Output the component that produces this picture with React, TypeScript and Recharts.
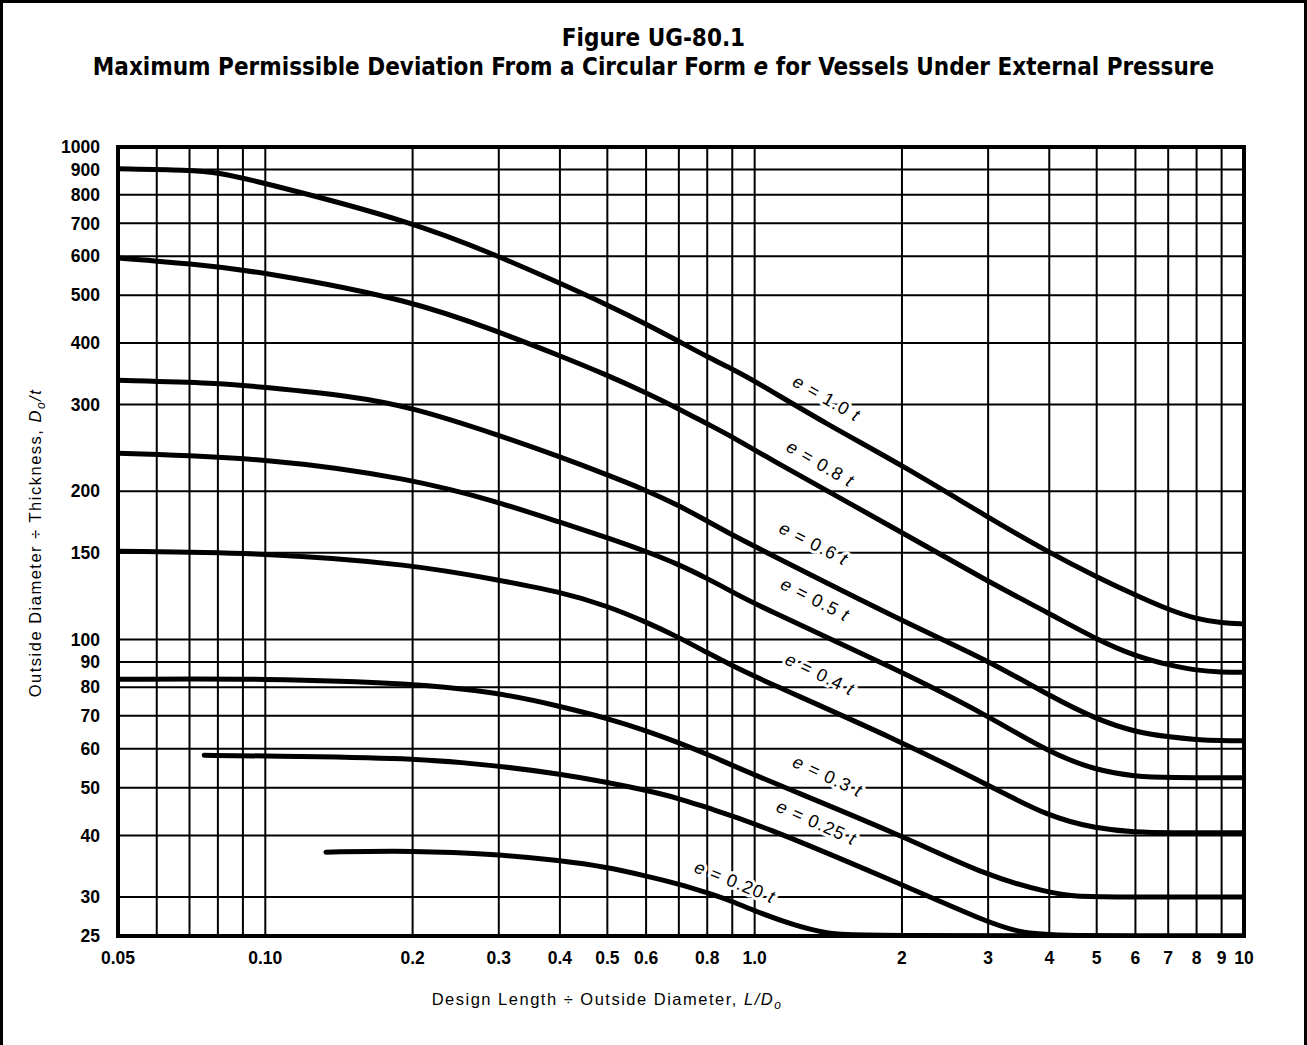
import React from 'react';
import { LineChart, Line, XAxis, YAxis, CartesianGrid, ReferenceArea } from 'recharts';

// ---- axes ----
const xGridValues = [0.05, 0.06, 0.07, 0.08, 0.09, 0.1, 0.2, 0.3, 0.4, 0.5, 0.6, 0.7, 0.8, 0.9, 1, 2, 3, 4, 5, 6, 7, 8, 9, 10];
const xLabelValues = [0.05, 0.1, 0.2, 0.3, 0.4, 0.5, 0.6, 0.8, 1, 2, 3, 4, 5, 6, 7, 8, 9, 10];
const xLabelTexts = ['0.05', '0.10', '0.2', '0.3', '0.4', '0.5', '0.6', '0.8', '1.0', '2', '3', '4', '5', '6', '7', '8', '9', '10'];
const yGridValues = [25, 30, 40, 50, 60, 70, 80, 90, 100, 150, 200, 300, 400, 500, 600, 700, 800, 900, 1000];

// ---- curves: L/Do (x) and Do/t (y) ----
const e10X = [0.05, 0.07, 0.08, 0.1, 0.2, 0.3, 0.4, 0.5, 0.6, 0.7, 0.8, 0.9, 1, 1.4, 2, 3, 4, 5, 6, 7, 8, 9, 10];
const e10Y = [903, 898, 888, 845, 705, 600, 529, 478, 437, 403, 375, 354, 335, 274, 226, 177, 150, 134, 123, 115, 110, 108, 107.5];

const e08X = [0.05, 0.07, 0.1, 0.2, 0.3, 0.4, 0.5, 0.6, 0.7, 0.8, 0.9, 1, 2, 3, 4, 5, 6, 7, 8, 9, 10];
const e08Y = [595, 580, 557, 488, 421, 377, 344, 317, 294, 274, 258, 242, 165, 131, 113, 100, 92.5, 88.8, 86.5, 85.8, 85.8];

const e06X = [0.05, 0.08, 0.1, 0.15, 0.2, 0.3, 0.4, 0.5, 0.6, 0.7, 0.8, 0.9, 1, 2, 3, 4, 5, 6, 7, 8, 9, 10];
const e06Y = [336, 332, 325, 312, 296, 260, 235, 216, 201, 187, 174, 163, 154.5, 109, 90.7, 76.9, 68.8, 64.9, 63.4, 62.6, 62.3, 62.3];

const e05X = [0.05, 0.1, 0.2, 0.3, 0.4, 0.5, 0.6, 0.7, 0.8, 0.9, 1, 2, 3, 4, 5, 6, 7, 10];
const e05Y = [239, 234, 212, 190, 173, 161, 151, 142, 133, 125, 118, 86, 70, 58.9, 54.2, 52.7, 52.4, 52.4];

const e04X = [0.05, 0.1, 0.2, 0.3, 0.4, 0.5, 0.6, 0.7, 0.8, 0.9, 1, 2, 3, 4, 5, 6, 7, 10];
const e04Y = [151, 150, 142, 132, 125, 117, 108.5, 101, 94, 88.5, 84, 62, 50.6, 43.6, 41.3, 40.6, 40.5, 40.5];

const e03X = [0.05, 0.1, 0.2, 0.3, 0.4, 0.5, 0.6, 0.7, 0.8, 1, 2, 3, 4, 4.5, 5, 10];
const e03Y = [83, 83.3, 81.5, 78, 73.2, 69.2, 65.3, 61.7, 58.5, 53, 40, 33, 30.6, 30.1, 30, 30];

const e025X = [0.075, 0.1, 0.2, 0.3, 0.4, 0.5, 0.6, 0.7, 0.8, 1, 2, 3, 3.5, 4, 10];
const e025Y = [58.2, 58, 57.5, 55.4, 53.3, 51.3, 49.4, 47.6, 45.5, 42.5, 31.8, 26.6, 25.4, 25, 25];

const e020X = [0.133, 0.2, 0.3, 0.4, 0.5, 0.6, 0.7, 0.8, 0.9, 1, 1.2, 1.4, 1.6, 10];
const e020Y = [37, 37.3, 36.6, 35.6, 34.5, 33.1, 31.9, 30.6, 29.4, 28.1, 26.3, 25.3, 25, 25];

// ---- curve labels (anchor in data units) ----
const labelTexts = ['1.0', '0.8', '0.6', '0.5', '0.4', '0.3', '0.25', '0.20'];
const labelX = [1.38, 1.34, 1.3, 1.31, 1.34, 1.39, 1.32, 0.9];
const labelY = [300, 221, 152, 117, 82.5, 51.2, 41.2, 31.2];

// styles (not data)
const labelAngles = [30, 30, 27, 27, 26, 25, 24, 22];
const labelLift = 7;
const FONT = "'Liberation Sans', Arial, Helvetica, sans-serif";

const zip = (xs: number[], ys: number[]) => xs.map((x, i) => ({ x, y: ys[i] }));

const curves = [
  zip(e10X, e10Y),
  zip(e08X, e08Y),
  zip(e06X, e06Y),
  zip(e05X, e05Y),
  zip(e04X, e04Y),
  zip(e03X, e03Y),
  zip(e025X, e025Y),
  zip(e020X, e020Y),
];

const labelData = labelTexts.map((t, i) => ({ x: labelX[i], y: labelY[i], text: t, idx: i }));

const xFmt = (v: number) => {
  const i = xLabelValues.findIndex((u) => Math.abs(u - v) < 1e-9);
  return i >= 0 ? xLabelTexts[i] : '';
};

const CurveLabel = (props: any) => {
  const { cx, cy, payload, index } = props;
  if (cx == null || cy == null || !payload) return <g key={`lbl-${index}`} />;
  const ang = labelAngles[payload.idx];
  return (
    <g key={`lbl-${index}`} transform={`rotate(${ang} ${cx} ${cy})`}>
      <text
        x={cx}
        y={cy - labelLift}
        textAnchor="middle"
        dominantBaseline="central"
        fontFamily={FONT}
        fontSize={18}
        letterSpacing={1}
        fill="#000"
        stroke="#fff"
        strokeWidth={6}
        paintOrder="stroke"
        strokeLinejoin="round"
      >
        <tspan fontStyle="italic">e</tspan>
        {` = ${payload.text} `}
        <tspan fontStyle="italic">t</tspan>
      </text>
    </g>
  );
};

export default function App() {
  return (
    <div style={{ position: 'relative', width: 1307, height: 1045, background: '#fff', overflow: 'hidden' }}>
      <style>{'body{margin:0;background:#fff;}'}</style>
      <LineChart width={1307} height={1045} margin={{ top: 147, right: 63, bottom: 0, left: 0 }}>
        <CartesianGrid stroke="#000" strokeWidth={2} strokeOpacity={1} />
        <XAxis
          dataKey="x"
          type="number"
          scale="log"
          domain={[0.05, 10]}
          allowDataOverflow
          ticks={xGridValues}
          interval={0}
          tickFormatter={xFmt}
          tickLine={false}
          axisLine={false}
          tickSize={0}
          tickMargin={16}
          height={109}
          tick={{ fill: '#000', fontSize: 17.5, fontWeight: 'bold', fontFamily: FONT }}
        />
        <YAxis
          dataKey="y"
          type="number"
          scale="log"
          domain={[25, 1000]}
          allowDataOverflow
          ticks={yGridValues}
          interval={0}
          tickLine={false}
          axisLine={false}
          tickSize={0}
          tickMargin={18}
          width={118}
          tick={{ fill: '#000', fontSize: 17.5, fontWeight: 'bold', fontFamily: FONT }}
        />
        <ReferenceArea x1={0.05} x2={10} y1={25} y2={1000} fill="none" stroke="#000" strokeWidth={4} ifOverflow="visible" />
        {curves.map((d, i) => (
          <Line
            key={i}
            data={d}
            dataKey="y"
            type="basis"
            stroke="#000"
            strokeWidth={5}
            strokeLinecap="round"
            dot={false}
            activeDot={false}
            isAnimationActive={false}
          />
        ))}
        <Line
          data={labelData}
          dataKey="y"
          stroke="none"
          dot={CurveLabel}
          activeDot={false}
          isAnimationActive={false}
        />
      </LineChart>

      {/* title */}
      <div
        style={{
          position: 'absolute',
          left: 0,
          top: 24,
          width: 1307,
          textAlign: 'center',
          fontFamily: "'DejaVu Sans Condensed', 'DejaVu Sans', sans-serif",
          fontStretch: 'condensed',
          fontWeight: 'bold',
          fontSize: 24,
          lineHeight: '29px',
          color: '#000',
        }}
      >
        <div>Figure UG-80.1</div>
        <div>
          Maximum Permissible Deviation From a Circular Form <i>e</i> for Vessels Under External Pressure
        </div>
      </div>

      {/* y axis title */}
      <div
        style={{
          position: 'absolute',
          left: 35,
          top: 543,
          transform: 'translate(-50%, -50%) rotate(-90deg)',
          whiteSpace: 'nowrap',
          fontFamily: FONT,
          fontSize: 16.5,
          letterSpacing: 1.5,
          color: '#000',
        }}
      >
        Outside Diameter ÷ Thickness, <i>D</i>
        <i style={{ fontSize: 12, position: 'relative', top: 4 }}>o</i>
        <i>/t</i>
      </div>

      {/* x axis title */}
      <div
        style={{
          position: 'absolute',
          left: 607,
          top: 999,
          transform: 'translate(-50%, -50%)',
          whiteSpace: 'nowrap',
          fontFamily: FONT,
          fontSize: 16.5,
          letterSpacing: 1.5,
          color: '#000',
        }}
      >
        Design Length ÷ Outside Diameter, <i>L/D</i>
        <i style={{ fontSize: 12, position: 'relative', top: 4 }}>o</i>
      </div>

      {/* outer frame */}
      <div
        style={{
          position: 'absolute',
          left: 0,
          top: 0,
          width: 1307,
          height: 1045,
          boxSizing: 'border-box',
          borderTop: '3px solid #000',
          borderLeft: '3px solid #000',
          borderRight: '3px solid #000',
          pointerEvents: 'none',
        }}
      />
    </div>
  );
}
